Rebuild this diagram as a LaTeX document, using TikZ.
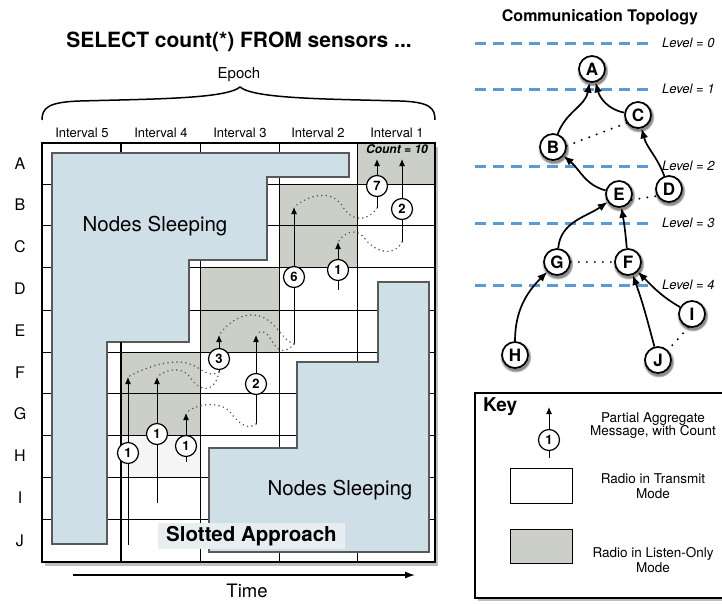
\documentclass[tikz,border=0pt]{standalone}
\usepackage{fontspec}
\setmainfont{TeX Gyre Heros}
\usetikzlibrary{shadows,arrows.meta}
\definecolor{sleepblue}{HTML}{CFDFE8}
\definecolor{listengray}{HTML}{CCCFC7}
\definecolor{levelblue}{HTML}{5B9BD5}
\definecolor{slotbg}{HTML}{E8EDF0}
\newcommand{\myfs}[1]{\fontsize{#1}{#1}\selectfont}
\begin{document}
\begin{tikzpicture}[x=1pt,y=-1pt,
  gline/.style={line width=0.9pt},
  sleep/.style={fill=sleepblue, draw=black!65, line width=1.3pt},
  listen/.style={fill=listengray},
  msg/.style={circle, draw, fill=white, line width=1.2pt, minimum size=21pt, inner sep=0pt, font=\myfs{13}\bfseries},
  marrow/.style={line width=1pt, -{Latex[length=7pt,width=6pt]}},
  mline/.style={line width=1pt},
  mdots/.style={draw=black!65, line width=1.7pt, line cap=round, dash pattern=on 0pt off 4.5pt},
  rowlab/.style={font=\myfs{16}},
  intlab/.style={font=\myfs{13}},
  tnode/.style={circle, draw, fill=white, line width=1.7pt, minimum size=26pt, inner sep=0pt, font=\myfs{17}\bfseries,
    circular drop shadow={shadow scale=1.22, opacity=0.9, shadow xshift=0.5pt, shadow yshift=-1.5pt}},
  tedge/.style={line width=1.7pt, -{Latex[length=10pt,width=8pt]}},
  tdots/.style={line width=2.2pt, line cap=round, dash pattern=on 0pt off 8pt},
  level/.style={levelblue, line width=3pt, dash pattern=on 11pt off 7pt},
  levlab/.style={anchor=west, font=\myfs{13}\itshape, inner sep=0pt},
  keytext/.style={align=center, font=\myfs{13.5}, text depth=0pt}
]
\useasboundingbox (0,0) rectangle (722,603);

% ---------- titles ----------
\node[font=\myfs{21}\bfseries] (title) at (239,42) {SELECT count(*) FROM sensors ...};
\node[font=\myfs{15}] (epoch) at (239,75) {Epoch};
\draw[line width=1.5pt] (42,120) .. controls (42,108) and (48,102) .. (80,101)
   .. controls (150,99) and (226,99) .. (240,87)
   .. controls (254,99) and (330,99) .. (400,101)
   .. controls (430,102) and (435,108) .. (435,120);

\foreach \t/\x in {5/82,4/161,3/240,2/318,1/397}
  \node[intlab] (int\t) at (\x,133) {Interval \t};

% ---------- frame with shadow ----------
\fill[white, drop shadow={opacity=0.5, shadow xshift=3pt, shadow yshift=-4pt}] (42,143) rectangle (435,562);

% listen-only cells
\fill[listen] (357,143) rectangle (435,184);
\fill[listen] (279,184) rectangle (357,267.5);
\fill[listen] (200,267.5) rectangle (279,352);
\fill[listen] (121,352) rectangle (200,435);
\fill[black!4] (121,435) rectangle (200,477);

% grid
\foreach \x in {200,279,357} \draw[gline] (\x,143) -- (\x,562);
\foreach \y in {184,225.5,267.5,310,352,393,435,477,519} \draw[gline] (42,\y) -- (435,\y);
\draw[line width=1.8pt] (121,143) -- (121,562);

% sleeping regions
\draw[sleep] (52,153) -- (349,153) -- (349,177) -- (267,177) -- (267,260) -- (189,260)
   -- (189,342) -- (107,342) -- (107,544) -- (52,544) -- cycle;
\draw[sleep] (378,282) -- (429,282) -- (429,552) -- (209,552) -- (209,448) -- (297,448)
   -- (297,362) -- (378,362) -- cycle;
\fill[white] (108,343) rectangle (120,352);
\draw[line width=1.8pt] (121,342) -- (121,562);

\draw[line width=2pt] (42,143) rectangle (435,562);

% row labels
\foreach \r/\y in {A/163.5,B/205,C/246.5,D/289,E/331,F/372.5,G/414,H/456,I/498,J/540.5}
  \node[rowlab] (row\r) at (20,\y) {\r};

\node[font=\myfs{20.5}] (sleep1) at (155,226) {Nodes Sleeping};
\node[font=\myfs{20.5}] (sleep2) at (340,490) {Nodes Sleeping};
\node[fill=slotbg, minimum width=187pt, minimum height=26pt, inner sep=0pt, font=\myfs{20.5}\bfseries] (slot) at (251.5,536) {Slotted Approach};
\node[font=\myfs{12}\bfseries\itshape] (count) at (397,149) {Count = 10};

% ---------- messages ----------
\node[msg] (c7) at (377,186) {7};
\node[msg] (c2a) at (402,209) {2};
\node[msg] (c6) at (294,277) {6};
\node[msg] (c1a) at (338,270) {1};
\node[msg] (c3) at (219,359) {3};
\node[msg] (c2b) at (256,384) {2};
\node[msg] (c1b) at (128,453) {1};
\node[msg] (c1c) at (157,434) {1};
\node[msg] (c1d) at (186,446) {1};

\coordinate (t7) at (377,159);   \coordinate (b7) at (377,208);
\coordinate (t2a) at (402,159);  \coordinate (b2a) at (402,242);
\coordinate (t6) at (294,207);   \coordinate (b6) at (294,344);
\coordinate (t1a) at (338,242);  \coordinate (b1a) at (338,290);
\coordinate (t3) at (219,335);   \coordinate (b3) at (219,372);
\coordinate (t2b) at (256,335);  \coordinate (b2b) at (256,424);
\coordinate (t1b) at (128,377);  \coordinate (b1b) at (128,545);
\coordinate (t1c) at (157,377);  \coordinate (b1c) at (157,503);
\coordinate (t1d) at (186,413);  \coordinate (b1d) at (186,462);

\foreach \c in {7,2a,6,1a,3,2b,1b,1c,1d}{
  \draw[marrow] (c\c) -- (t\c);
  \draw[mline] (c\c) -- (b\c);
}

% overheard transmissions
\draw[mdots] (b7) .. controls (368,222) and (352,222) .. (343,207) .. controls (335,193) and (316,190) .. (t6);
\draw[mdots] (b2a) .. controls (395,256) and (378,254) .. (366,240) .. controls (358,228) and (346,230) .. (t1a);
\draw[mdots] (b6) .. controls (280,340) and (275,315) .. (252,315) .. controls (236,315) and (225,327) .. (t3);
\draw[mdots] (b6) .. controls (285,354) and (278,352) .. (272,341) .. controls (266,330) and (260,330) .. (t2b);
\draw[mdots] (b3) .. controls (205,380) and (200,362) .. (178,362) .. controls (160,362) and (140,370) .. (t1b);
\draw[mdots] (b3) .. controls (215,393) and (200,393) .. (190,377) .. controls (182,366) and (166,369) .. (t1c);
\draw[mdots] (b2b) .. controls (248,430) and (240,425) .. (230,412) .. controls (222,402) and (198,402) .. (t1d);

% time axis
\coordinate (ts) at (73,575);
\coordinate (te) at (415,575);
\draw[line width=1.3pt, -{Latex[length=10pt,width=7pt]}] (ts) -- (te);
\node[font=\myfs{18.5}] (time) at (247,591) {Time};

% ---------- communication topology ----------
\node[font=\myfs{16}\bfseries] (ctitle) at (600,17) {Communication Topology};
\foreach \l/\y in {0/43,1/89,2/166,3/223,4/285}{
  \draw[level] (475,\y) -- (653,\y);
  \node[levlab] (lev\l) at (662,\y) {Level = \l};
}

\node[tnode] (A) at (592,69) {A};
\node[tnode] (C) at (638,115) {C};
\node[tnode] (B) at (553,147) {B};
\node[tnode] (D) at (669,189) {D};
\node[tnode] (E) at (619,194) {E};
\node[tnode] (G) at (557,262) {G};
\node[tnode] (F) at (628,262) {F};
\node[tnode] (I) at (692,314) {I};
\node[tnode] (H) at (515,355) {H};
\node[tnode] (J) at (658,360) {J};

\draw[tedge] (B) to[out=70,in=-100] (A);
\draw[tedge] (C) to[out=170,in=-75] (A);
\draw[tedge] (D) to[out=110,in=-75] (C);
\draw[tedge] (E) to[out=165,in=-40] (B);
\draw[tedge] (G) to[out=85,in=-145] (E);
\draw[tedge] (F) to[out=95,in=-80] (E);
\draw[tedge] (H) to[out=90,in=-135] (G);
\draw[tedge] (I) to[out=150,in=-45] (F);
\draw[tedge] (J) to[out=105,in=-70] (F);

\draw[tdots] (B.5) -- (C.215);
\draw[tdots] (E.-25) -- (D.-150);
\draw[tdots] (G.east) -- (F.west);
\draw[tdots] (I.-105) -- (J.45);

% ---------- key ----------
\draw[line width=1.4pt, fill=white, drop shadow={opacity=0.5, shadow xshift=3pt, shadow yshift=-3pt}] (475,393) rectangle (728,598);
\node[font=\myfs{19}\bfseries, anchor=west, inner sep=0pt] (key) at (483,407) {Key};
\node[msg] (kc) at (549,440) {1};
\coordinate (kt) at (549,407);
\coordinate (kb) at (549,458);
\draw[marrow] (kc) -- (kt);
\draw[mline] (kc) -- (kb);
\node[keytext] (k1) at (653,424) {Partial Aggregate\\[-1pt]Message, with Count};
\node[draw, line width=1pt, fill=white, minimum width=62pt, minimum height=35pt] (ktx) at (541,485.5) {};
\node[keytext] (k2) at (653,486) {Radio in Transmit\\[1pt]Mode};
\node[draw, line width=1pt, fill=listengray, minimum width=62pt, minimum height=34pt] (klo) at (541,546) {};
\node[keytext] (k3) at (653,560) {Radio in Listen-Only\\[1pt]Mode};
\end{tikzpicture}
\end{document}
